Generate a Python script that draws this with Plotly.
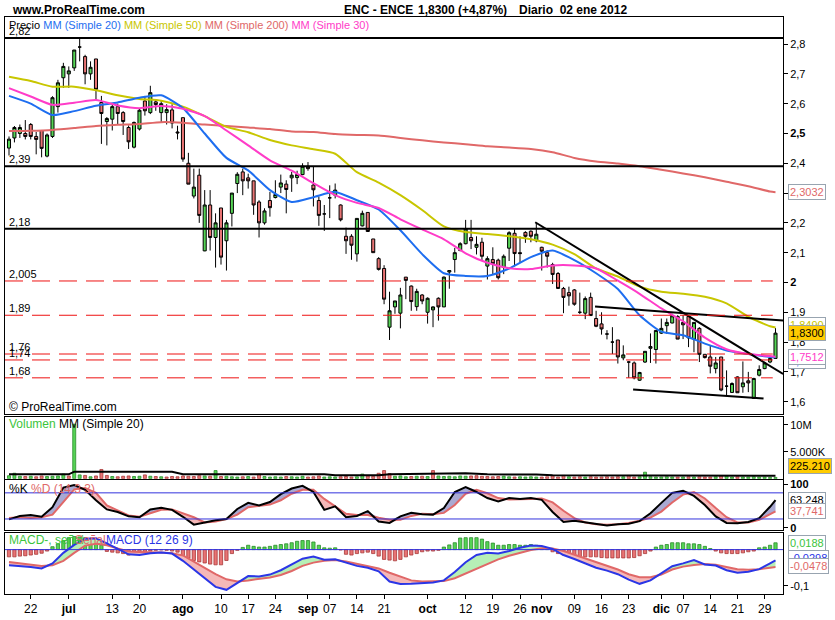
import pandas as pd
import plotly.graph_objects as go
from plotly.subplots import make_subplots

# trading days on screen (Madrid closed 26 dic)
dates = pd.bdate_range("2011-06-16", "2012-01-02")
dates = dates[dates != pd.Timestamp("2011-12-26")]
bars = list(range(len(dates)))

opens = [2.451, 2.485, 2.50, 2.50, 2.53, 2.49, 2.51, 2.424, 2.49, 2.59, 2.687, 2.70, 2.72, 2.79, 2.758, 2.70, 2.75, 2.604, 2.54, 2.548,
         2.59, 2.57, 2.52, 2.454, 2.515, 2.609, 2.57, 2.606, 2.57, 2.57, 2.579, 2.505, 2.553, 2.40, 2.29, 2.36, 2.106, 2.26, 2.151, 2.25,
         2.14, 2.232, 2.332, 2.371, 2.351, 2.341, 2.27, 2.20, 2.275, 2.285, 2.32, 2.33, 2.351, 2.352, 2.362, 2.39, 2.327, 2.275, 2.23, 2.284,
         2.293, 2.26, 2.155, 2.155, 2.096, 2.19, 2.235, 2.146, 2.08, 2.047, 1.85, 1.918, 1.897, 2.018, 1.988, 1.919, 1.958, 1.90, 1.908, 1.947,
         1.918, 2.035, 2.077, 2.107, 2.13, 2.151, 2.118, 2.135, 2.055, 2.077, 2.075, 2.051, 2.115, 2.165, 2.10, 2.168, 2.172, 2.14, 2.118, 2.10,
         2.06, 2.03, 1.98, 1.966, 1.975, 1.90, 1.897, 1.95, 1.879, 1.861, 1.827, 1.80, 1.807, 1.747, 1.733, 1.73, 1.672, 1.733, 1.779, 1.775,
         1.83, 1.855, 1.864, 1.886, 1.866, 1.886, 1.81, 1.846, 1.759, 1.75, 1.711, 1.75, 1.652, 1.631, 1.683, 1.65, 1.67, 1.611, 1.689, 1.711,
         1.733, 1.745]
highs = [2.49, 2.525, 2.53, 2.545, 2.535, 2.505, 2.51, 2.50, 2.625, 2.68, 2.737, 2.725, 2.78, 2.82, 2.764, 2.742, 2.75, 2.626, 2.555, 2.598,
         2.60, 2.575, 2.527, 2.54, 2.585, 2.626, 2.66, 2.615, 2.61, 2.598, 2.598, 2.526, 2.553, 2.435, 2.382, 2.382, 2.31, 2.31, 2.232, 2.25,
         2.21, 2.30, 2.37, 2.382, 2.365, 2.341, 2.276, 2.249, 2.304, 2.343, 2.362, 2.343, 2.371, 2.375, 2.40, 2.404, 2.39, 2.288, 2.26, 2.326,
         2.332, 2.262, 2.184, 2.162, 2.215, 2.241, 2.235, 2.146, 2.085, 2.058, 1.969, 1.938, 1.982, 2.018, 1.99, 1.979, 1.961, 1.95, 1.92, 1.95,
         2.02, 2.04, 2.116, 2.135, 2.21, 2.21, 2.155, 2.15, 2.088, 2.118, 2.08, 2.094, 2.172, 2.18, 2.155, 2.172, 2.175, 2.20, 2.12, 2.108,
         2.066, 2.035, 1.985, 1.986, 1.978, 1.966, 1.953, 1.966, 1.905, 1.90, 1.84, 1.85, 1.807, 1.789, 1.735, 1.735, 1.70, 1.77, 1.829, 1.84,
         1.879, 1.879, 1.895, 1.89, 1.89, 1.886, 1.866, 1.85, 1.759, 1.789, 1.75, 1.75, 1.705, 1.665, 1.685, 1.735, 1.70, 1.68, 1.722, 1.734,
         1.75, 1.847]
lows = [2.426, 2.47, 2.485, 2.48, 2.48, 2.43, 2.42, 2.42, 2.485, 2.57, 2.653, 2.653, 2.71, 2.742, 2.665, 2.68, 2.61, 2.465, 2.46, 2.51,
        2.53, 2.495, 2.448, 2.45, 2.51, 2.56, 2.565, 2.576, 2.537, 2.53, 2.517, 2.48, 2.405, 2.33, 2.282, 2.20, 2.105, 2.107, 2.05, 2.06,
        2.04, 2.188, 2.30, 2.293, 2.315, 2.227, 2.151, 2.194, 2.221, 2.282, 2.30, 2.232, 2.304, 2.33, 2.36, 2.375, 2.255, 2.19, 2.173, 2.216,
        2.282, 2.205, 2.096, 2.076, 2.07, 2.188, 2.171, 2.10, 2.04, 1.927, 1.807, 1.895, 1.846, 1.944, 1.905, 1.905, 1.927, 1.862, 1.85, 1.872,
        1.918, 1.979, 2.033, 2.105, 2.128, 2.112, 2.094, 2.072, 2.01, 2.028, 2.01, 2.028, 2.072, 2.054, 2.066, 2.133, 2.135, 2.135, 2.04, 2.05,
        1.995, 1.978, 1.897, 1.922, 1.922, 1.894, 1.877, 1.888, 1.85, 1.825, 1.809, 1.76, 1.728, 1.739, 1.68, 1.675, 1.67, 1.73, 1.73, 1.728,
        1.827, 1.827, 1.863, 1.81, 1.81, 1.783, 1.766, 1.733, 1.745, 1.695, 1.695, 1.635, 1.622, 1.63, 1.63, 1.63, 1.632, 1.61, 1.685, 1.709,
        1.729, 1.744]
closes = [2.481, 2.52, 2.52, 2.49, 2.49, 2.48, 2.45, 2.495, 2.62, 2.67, 2.725, 2.71, 2.78, 2.79, 2.70, 2.722, 2.648, 2.567, 2.55, 2.59,
          2.567, 2.54, 2.472, 2.537, 2.578, 2.576, 2.637, 2.597, 2.60, 2.58, 2.535, 2.502, 2.414, 2.33, 2.32, 2.225, 2.26, 2.151, 2.20, 2.085,
          2.20, 2.30, 2.363, 2.341, 2.341, 2.26, 2.20, 2.24, 2.251, 2.295, 2.334, 2.312, 2.36, 2.362, 2.39, 2.382, 2.311, 2.225, 2.23, 2.284,
          2.31, 2.21, 2.14, 2.125, 2.215, 2.232, 2.171, 2.10, 2.044, 1.944, 1.905, 1.938, 1.958, 2.007, 1.936, 1.97, 1.938, 1.947, 1.918, 1.918,
          2.018, 2.04, 2.10, 2.13, 2.18, 2.14, 2.128, 2.088, 2.08, 2.063, 2.016, 2.088, 2.167, 2.097, 2.097, 2.155, 2.155, 2.162, 2.105, 2.088,
          2.027, 1.98, 1.95, 1.955, 1.927, 1.90, 1.946, 1.889, 1.853, 1.844, 1.827, 1.80, 1.75, 1.757, 1.733, 1.68, 1.698, 1.769, 1.785, 1.839,
          1.846, 1.866, 1.888, 1.81, 1.858, 1.814, 1.866, 1.759, 1.748, 1.719, 1.73, 1.639, 1.652, 1.661, 1.63, 1.663, 1.663, 1.678, 1.708, 1.73,
          1.745, 1.83]

volume = [550, 1000, 450, 400, 450, 350, 500, 400, 450, 500, 850, 500, 10100,
          700, 600, 350, 500, 1700, 600, 400, 350, 450, 500, 400, 450, 700, 450, 400, 350, 300, 400, 350,
          500, 450, 400, 550, 500, 450, 1500, 400, 450, 350, 300, 350, 400, 300, 850, 400, 300, 350, 300, 400, 350, 300, 450, 300, 350, 500, 300, 350, 300,
          350, 400, 300, 350, 850, 500, 450, 1000, 1500, 950, 450, 500, 350, 400, 450,
          450, 400, 1500, 500, 400, 450, 350, 500, 450, 500, 550, 450, 400, 350, 400, 450, 350, 300, 350, 300, 350, 300, 300, 350,
          600, 300, 600, 350, 300, 350, 300, 350, 300, 300, 350, 300, 350, 350, 600, 300, 350, 1200, 350, 300, 300, 350, 300, 300,
          300, 350, 300, 350, 300, 300, 350, 550, 500, 300, 350, 300, 300, 350, 300, 300, 250, 225]
volume = [v * 1000 for v in volume]
vol_ma_idx = [0, 11, 12, 30, 32, 58, 60, 68, 70, 75, 78, 84, 88, 97, 100, 141]
vol_ma = [0.8e6, 0.8e6, 1.3e6, 1.28e6, 0.8e6, 0.8e6, 0.62e6, 0.62e6, 0.8e6, 0.85e6, 0.98e6, 0.98e6, 0.8e6, 0.78e6, 0.62e6, 0.55e6]

# moving averages read every 4 sessions
ma_idx = list(range(0, 141, 4)) + [141]
sma20 = [2.626, 2.60, 2.562, 2.575, 2.593, 2.604, 2.62, 2.628, 2.585, 2.50, 2.418, 2.376, 2.31, 2.27, 2.286, 2.304, 2.276, 2.245, 2.175,
         2.095, 2.031, 2.022, 2.022, 2.047, 2.085, 2.107, 2.075, 2.031, 1.978, 1.89, 1.835, 1.823, 1.795, 1.772, 1.76, 1.75, 1.749]
sma50 = [2.69, 2.676, 2.657, 2.657, 2.645, 2.628, 2.616, 2.61, 2.59, 2.558, 2.522, 2.504, 2.478, 2.46, 2.447, 2.432, 2.37, 2.335, 2.293,
         2.243, 2.188, 2.169, 2.163, 2.155, 2.145, 2.127, 2.095, 2.047, 2.02, 1.986, 1.969, 1.962, 1.952, 1.93, 1.885, 1.853, 1.849]
sma200 = [2.508, 2.509, 2.512, 2.518, 2.525, 2.529, 2.532, 2.538, 2.536, 2.53, 2.525, 2.52, 2.515, 2.507, 2.505, 2.498, 2.495, 2.493,
          2.485, 2.477, 2.47, 2.464, 2.457, 2.453, 2.448, 2.437, 2.418, 2.406, 2.399, 2.39, 2.378, 2.366, 2.353, 2.338, 2.323, 2.305, 2.303]
sma30 = [2.652, 2.624, 2.596, 2.603, 2.612, 2.594, 2.585, 2.592, 2.583, 2.558, 2.51, 2.46, 2.41, 2.375, 2.333, 2.293, 2.267, 2.25, 2.212,
         2.178, 2.145, 2.098, 2.066, 2.048, 2.045, 2.057, 2.057, 2.047, 2.006, 1.962, 1.913, 1.87, 1.815, 1.776, 1.76, 1.753, 1.751]

# oscillators read every 2 sessions
osc_idx = list(range(0, 141, 2)) + [141]
stoch_k = [19, 27, 29, 25, 47, 92, 98, 87, 63, 42, 36, 26, 24, 42, 46, 41, 25, 7, 12, 17, 20, 43, 57, 51, 59, 77, 90, 96, 82, 41,
           49, 24, 27, 38, 14, 11, 26, 34, 31, 30, 45, 82, 93, 82, 68, 60, 68, 66, 68, 64, 36, 13, 16, 12, 9, 5, 8, 9, 15, 33,
           57, 80, 85, 73, 52, 26, 11, 10, 13, 22, 48, 63.2]
stoch_d = [22, 24, 22, 24, 30, 60, 88, 91, 80, 51, 39, 28, 25, 33, 41, 42, 33, 24, 12, 14, 20, 30, 47, 50, 53, 63, 78, 87, 87, 66,
           50, 32, 29, 29, 23, 18, 18, 27, 32, 31, 34, 52, 78, 87, 79, 68, 65, 65, 66, 67, 58, 39, 22, 12, 8, 7, 8, 11, 16, 23,
           37, 58, 76, 82, 67, 45, 24, 12, 12, 18, 31, 37.7]
macd = [-0.043, -0.0445, -0.048, -0.052, -0.038, -0.009, 0.013, 0.030, 0.031, 0.017, 0.002, -0.013, -0.015, -0.010, -0.008, -0.011,
        -0.031, -0.055, -0.080, -0.103, -0.111, -0.092, -0.073, -0.074, -0.069, -0.057, -0.041, -0.025, -0.019, -0.028, -0.027, -0.035,
        -0.045, -0.050, -0.060, -0.088, -0.095, -0.0945, -0.092, -0.091, -0.085, -0.062, -0.035, -0.015, -0.009, -0.011, -0.004, 0.005,
        0.011, 0.010, 0.002, -0.015, -0.026, -0.037, -0.050, -0.058, -0.068, -0.083, -0.0945, -0.085, -0.066, -0.046, -0.038, -0.029,
        -0.041, -0.044, -0.057, -0.064, -0.061, -0.054, -0.038, -0.0298]
signal = [-0.034, -0.038, -0.042, -0.045, -0.043, -0.031, -0.009, 0.011, 0.016, 0.012, 0.003, -0.005, -0.0064, -0.0066, -0.008, -0.010,
          -0.016, -0.033, -0.050, -0.068, -0.082, -0.088, -0.085, -0.081, -0.077, -0.070, -0.059, -0.045, -0.036, -0.031, -0.029, -0.033,
          -0.039, -0.045, -0.052, -0.064, -0.0745, -0.085, -0.088, -0.088, -0.087, -0.079, -0.066, -0.054, -0.040, -0.027, -0.017, -0.009,
          -0.001, 0.004, 0.003, -0.004, -0.014, -0.023, -0.033, -0.043, -0.055, -0.068, -0.076, -0.076, -0.069, -0.055, -0.047, -0.0425,
          -0.040, -0.042, -0.047, -0.054, -0.0555, -0.054, -0.050, -0.0478]
macd_hist = [-0.020, -0.020, -0.018, -0.017, -0.015, -0.013, -0.010, -0.004, 0.008, 0.016, 0.024, 0.033, 0.036, 0.035, 0.033, 0.029,
             0.021, 0.012, -0.005, -0.007, -0.009, -0.011, -0.015, -0.013, -0.010, -0.007, -0.004, -0.002, -0.001, -0.002, -0.004, -0.007,
             -0.018, -0.024, -0.030, -0.034, -0.037, -0.040, -0.042, -0.042, -0.030, -0.011, -0.002, 0.006, 0.012, 0.009, 0.007, 0.007,
             0.009, 0.012, 0.014, 0.016, 0.019, 0.023, 0.025, 0.025, 0.021, 0.012, 0.005, 0.004, 0.005, -0.001, -0.013, -0.015, -0.011,
             -0.009, -0.007, -0.011, -0.018, -0.027, -0.029, -0.031, -0.027, -0.020, -0.015, -0.011,
             -0.006, -0.004, -0.004, -0.002, 0.007, 0.013, 0.019, 0.032, 0.033, 0.033, 0.033, 0.029, 0.022, 0.018, 0.012, 0.012,
             0.014, 0.014, 0.012, 0.012, 0.014, 0.012, 0.007, 0.003,
             -0.006, -0.011, -0.015, -0.018, -0.020, -0.020, -0.020, -0.020, -0.020, -0.022, -0.023, -0.023, -0.023, -0.023, -0.023,
             -0.022, -0.017, -0.011, -0.004, 0.007, 0.012, 0.014, 0.019, 0.019, 0.019, 0.016, 0.016, 0.014, 0.009, 0.003, -0.004,
             -0.009, -0.011, -0.011, -0.011, -0.009, -0.006, -0.004, 0.005, 0.007, 0.012, 0.0188]

# drawn levels and trend lines
black_levels = [2.82, 2.39, 2.18]
black_labels = ["2,82", "2,39", "2,18"]
red_levels = [2.005, 1.89, 1.76, 1.74, 1.68]
red_labels = ["2,005", "1,89", "1,76", "1,74", "1,68"]
trend1_x, trend1_y = [96.8, 142.4], [2.202, 1.693]
trend2_x, trend2_y = [107.8, 142.4], [1.919, 1.872]
trend3_x, trend3_y = [114.8, 138.8], [1.641, 1.611]

tick_dates = ["2011-06-22", "2011-07-01", "2011-07-13", "2011-07-20", "2011-08-01", "2011-08-10", "2011-08-17", "2011-08-24",
              "2011-09-01", "2011-09-07", "2011-09-14", "2011-09-21", "2011-10-03", "2011-10-12", "2011-10-19", "2011-10-26",
              "2011-11-01", "2011-11-09", "2011-11-16", "2011-11-23", "2011-12-01", "2011-12-07", "2011-12-14", "2011-12-21",
              "2011-12-29"]
tick_text = ["22", "jul", "13", "20", "ago", "10", "17", "24", "sep", "07", "14", "21", "oct", "12", "19", "26",
             "nov", "09", "16", "23", "dic", "07", "14", "21", "29"]
price_ticks = [1.6, 1.7, 1.8, 1.9, 2.0, 2.1, 2.2, 2.3, 2.4, 2.5, 2.6, 2.7, 2.8]
price_labels = ["1,6", "1,7", "1,8", "1,9", "<b>2</b>", "2,1", "2,2", "2,3", "2,4", "<b>2,5</b>", "2,6", "2,7", "2,8"]

FONT = "Liberation Sans, Arial, sans-serif"
GREEN, RED = "#55d455", "#e87474"
BLUE, YELLOW, SALMON, MAGENTA = "#1e6ef0", "#c8c600", "#e06868", "#ff3cc8"
INDIGO = "#2b36e6"
PINK, LAV, MINT = "#f5b8b8", "#a9a9d2", "#b6efb6"

fig = make_subplots(rows=4, cols=1, shared_xaxes=True, vertical_spacing=0.005)

# --- price
fig.add_trace(go.Candlestick(x=bars, open=opens, high=highs, low=lows, close=closes,
                             increasing=dict(fillcolor=GREEN, line=dict(color="black", width=1)),
                             decreasing=dict(fillcolor=RED, line=dict(color="black", width=1)),
                             hoverinfo="skip"), row=1, col=1)
for vals, col in [(sma200, SALMON), (sma50, YELLOW), (sma20, BLUE), (sma30, MAGENTA)]:
    fig.add_trace(go.Scatter(x=ma_idx, y=vals, mode="lines", line=dict(color=col, width=2, shape="spline", smoothing=0.6)),
                  row=1, col=1)
for tx, ty in [(trend1_x, trend1_y), (trend2_x, trend2_y), (trend3_x, trend3_y)]:
    fig.add_trace(go.Scatter(x=tx, y=ty, mode="lines", line=dict(color="black", width=2)), row=1, col=1)

# --- volume
up = [True] + [closes[i] >= closes[i - 1] for i in range(1, len(closes))]
fig.add_trace(go.Bar(x=bars, y=volume, width=0.55,
                     marker=dict(color=[GREEN if u else RED for u in up],
                                 line=dict(color=["#2c8c2c" if u else "#a83838" for u in up], width=0.8))),
              row=2, col=1)
fig.add_trace(go.Scatter(x=vol_ma_idx, y=vol_ma, mode="lines", line=dict(color="black", width=2)), row=2, col=1)

# --- stochastic
k_hi = [max(a, b) for a, b in zip(stoch_k, stoch_d)]
k_lo = [min(a, b) for a, b in zip(stoch_k, stoch_d)]
for edge, colr in [(k_hi, LAV), (k_lo, PINK)]:
    fig.add_trace(go.Scatter(x=osc_idx, y=stoch_d, mode="lines", line=dict(width=0)), row=3, col=1)
    fig.add_trace(go.Scatter(x=osc_idx, y=edge, mode="lines", line=dict(width=0), fill="tonexty", fillcolor=colr), row=3, col=1)
fig.add_trace(go.Scatter(x=osc_idx, y=stoch_d, mode="lines", line=dict(color=SALMON, width=2)), row=3, col=1)
fig.add_trace(go.Scatter(x=osc_idx, y=stoch_k, mode="lines", line=dict(color="black", width=2)), row=3, col=1)

# --- MACD
fig.add_trace(go.Bar(x=bars, y=macd_hist, width=0.6,
                     marker=dict(color=[GREEN if h >= 0 else RED for h in macd_hist],
                                 line=dict(color=["#2c8c2c" if h >= 0 else "#a83838" for h in macd_hist], width=0.8))),
              row=4, col=1)
m_hi = [max(a, b) for a, b in zip(macd, signal)]
m_lo = [min(a, b) for a, b in zip(macd, signal)]
for edge, colr in [(m_hi, MINT), (m_lo, PINK)]:
    fig.add_trace(go.Scatter(x=osc_idx, y=signal, mode="lines", line=dict(width=0)), row=4, col=1)
    fig.add_trace(go.Scatter(x=osc_idx, y=edge, mode="lines", line=dict(width=0), fill="tonexty", fillcolor=colr), row=4, col=1)
fig.add_trace(go.Scatter(x=osc_idx, y=signal, mode="lines", line=dict(color=SALMON, width=2)), row=4, col=1)
fig.add_trace(go.Scatter(x=osc_idx, y=macd, mode="lines", line=dict(color=INDIGO, width=2)), row=4, col=1)

# --- levels
X0, X1 = -0.735, 142.38
for lv in black_levels:
    fig.add_shape(type="line", xref="x", yref="y", x0=X0, x1=X1, y0=lv, y1=lv, line=dict(color="black", width=2))
for lv in red_levels:
    fig.add_shape(type="line", xref="x", yref="y", x0=X0, x1=140.5, y0=lv, y1=lv,
                  line=dict(color="#ee1111", width=1, dash="18px,9px"))
for lv in [80, 20]:
    fig.add_shape(type="line", xref="x3", yref="y3", x0=X0, x1=X1, y0=lv, y1=lv, line=dict(color="#3333dd", width=1))
fig.add_shape(type="line", xref="x4", yref="y4", x0=X0, x1=X1, y0=0, y1=0, line=dict(color="#3333dd", width=1))

for lv, lab in zip(black_levels + red_levels, black_labels + red_labels):
    fig.add_annotation(x=0.002, xref="paper", xanchor="left", y=lv, yref="y", yanchor="bottom", yshift=-1,
                       text=lab, showarrow=False, font=dict(size=11, color="black", family=FONT))

# --- axes
axis_common = dict(showgrid=False, zeroline=False, showline=True, mirror=True, linecolor="black", linewidth=1)
fig.update_xaxes(range=[X0, X1], rangeslider_visible=False, showticklabels=False, ticks="", **axis_common)
fig.update_xaxes(row=4, col=1, showticklabels=True, ticks="outside", ticklen=4, tickcolor="black",
                 tickvals=[dates.get_loc(pd.Timestamp(d)) for d in tick_dates],
                 ticktext=["<b>%s</b>" % t if t.isalpha() else t for t in tick_text],
                 tickfont=dict(size=12, color="black", family=FONT))
ytick = dict(side="right", ticks="outside", ticklen=4, tickcolor="black", tickfont=dict(size=11, color="black", family=FONT))
fig.update_layout(
    yaxis=dict(domain=[0.3127, 1], range=[1.5601, 2.8908], tickvals=price_ticks, ticktext=price_labels, **ytick, **axis_common),
    yaxis2=dict(domain=[0.1999, 0.3076], range=[0, 11.53e6], tickvals=[5e6, 10e6], ticktext=["5.000K", "10M"], **ytick, **axis_common),
    yaxis3=dict(domain=[0.1117, 0.1971], range=[-4.3, 108.9], tickvals=[0, 100], ticktext=["<b>0</b>", "<b>100</b>"], **ytick, **axis_common),
    yaxis4=dict(domain=[0, 0.106], range=[-0.1226, 0.0463], tickvals=[-0.1], ticktext=["-0,1"], **ytick, **axis_common),
)


def value_box(text, y, yref, color, bg="white"):
    fig.add_annotation(x=1, xref="paper", xanchor="left", xshift=5, y=y, yref=yref, text=text, showarrow=False,
                       font=dict(size=11, color=color, family=FONT), bgcolor=bg,
                       bordercolor="#98a4b0", borderwidth=1, borderpad=1)


value_box("2,3032", 2.3032, "y", SALMON)
value_box("1,8490", 1.858, "y", YELLOW)
value_box("1,8300", 1.83, "y", "black", bg="#ffcc00")
value_box("1,7490", 1.738, "y", BLUE)
value_box("1,7512", 1.7512, "y", MAGENTA)
value_box("225.210", 2.33e6, "y2", "black", bg="#ffcc00")
value_box("63,248", 63.2, "y3", "black")
value_box("37,741", 37.7, "y3", SALMON)
value_box("0,0188", 0.0188, "y4", "#3cc43c")
value_box("-0,0298", -0.0235, "y4", INDIGO)
value_box("-0,0478", -0.0448, "y4", SALMON)


def label(text, px, py, size=11, anchor="left"):
    fig.add_annotation(x=(px - 4) / 779, y=(599 - py) / 582, xref="paper", yref="paper", xanchor=anchor, yanchor="middle",
                       text=text, showarrow=False, font=dict(size=size, color="black", family=FONT))


label("<b>www.ProRealTime.com</b>", 9, 10, size=12)
label("<b>ENC - ENCE</b>", 341, 10, size=12)
label("<b>1,8300 (+4,87%)</b>", 416, 10, size=12)
label("<b>Diario  02 ene 2012</b>", 517, 10, size=12)
label("Precio <span style='color:%s'>MM (Simple 20)</span> <span style='color:%s'>MM (Simple 50)</span> "
      "<span style='color:%s'>MM (Simple 200)</span> <span style='color:%s'>MM (Simple 30)</span>"
      % (BLUE, YELLOW, SALMON, MAGENTA), 6, 25, size=11)
label("© ProRealTime.com", 6, 410, size=12)
label("<span style='color:#3cc43c'>Volumen</span> MM (Simple 20)", 6, 428, size=12)
label("%%K <span style='color:%s'>%%D (14 3 3)</span>" % SALMON, 6, 493, size=12)
label("<span style='color:#3cc43c'>MACD-, señal</span>", 6, 545, size=12)
label("<span style='color:%s'>Señal</span>" % SALMON, 72, 545, size=12)
label("<span style='color:%s'>MACD (12 26 9)</span>" % INDIGO, 103, 545, size=12)

fig.update_layout(width=835, height=620, margin=dict(l=4, r=52, t=17, b=21), paper_bgcolor="white",
                  plot_bgcolor="white", showlegend=False, boxgap=0.2, font=dict(family=FONT))
# the page's default 8px body margin would push the chart off the window
fig.write_html("out.html", config={"displayModeBar": False},
               post_script="document.body.style.margin='0px';")
